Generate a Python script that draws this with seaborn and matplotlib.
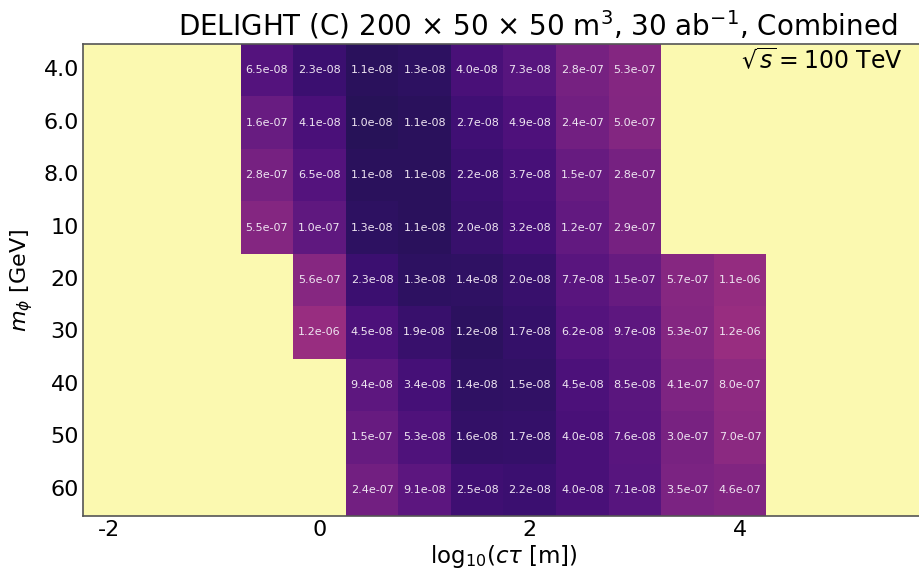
import numpy as np
import pandas as pd
import matplotlib
matplotlib.use("Agg")
import matplotlib.pyplot as plt
import seaborn as sns
from matplotlib.colors import LogNorm

# Data
nan = np.nan
log_ctau = [-2.0, -1.5, -1.0, -0.5, 0.0, 0.5, 1.0, 1.5, 2.0, 2.5, 3.0, 3.5, 4.0, 4.5, 5.0, 5.5]
mass_labels = ["4.0", "6.0", "8.0", "10", "20", "30", "40", "50", "60"]

m4 = [nan, nan, nan, 6.5e-08, 2.3e-08, 1.1e-08, 1.3e-08, 4.0e-08, 7.3e-08, 2.8e-07, 5.3e-07, nan, nan, nan, nan, nan]
m6 = [nan, nan, nan, 1.6e-07, 4.1e-08, 1.0e-08, 1.1e-08, 2.7e-08, 4.9e-08, 2.4e-07, 5.0e-07, nan, nan, nan, nan, nan]
m8 = [nan, nan, nan, 2.8e-07, 6.5e-08, 1.1e-08, 1.1e-08, 2.2e-08, 3.7e-08, 1.5e-07, 2.8e-07, nan, nan, nan, nan, nan]
m10 = [nan, nan, nan, 5.5e-07, 1.0e-07, 1.3e-08, 1.1e-08, 2.0e-08, 3.2e-08, 1.2e-07, 2.9e-07, nan, nan, nan, nan, nan]
m20 = [nan, nan, nan, nan, 5.6e-07, 2.3e-08, 1.3e-08, 1.4e-08, 2.0e-08, 7.7e-08, 1.5e-07, 5.7e-07, 1.1e-06, nan, nan, nan]
m30 = [nan, nan, nan, nan, 1.2e-06, 4.5e-08, 1.9e-08, 1.2e-08, 1.7e-08, 6.2e-08, 9.7e-08, 5.3e-07, 1.2e-06, nan, nan, nan]
m40 = [nan, nan, nan, nan, nan, 9.4e-08, 3.4e-08, 1.4e-08, 1.5e-08, 4.5e-08, 8.5e-08, 4.1e-07, 8.0e-07, nan, nan, nan]
m50 = [nan, nan, nan, nan, nan, 1.5e-07, 5.3e-08, 1.6e-08, 1.7e-08, 4.0e-08, 7.6e-08, 3.0e-07, 7.0e-07, nan, nan, nan]
m60 = [nan, nan, nan, nan, nan, 2.4e-07, 9.1e-08, 2.5e-08, 2.2e-08, 4.0e-08, 7.1e-08, 3.5e-07, 4.6e-07, nan, nan, nan]

xtick_values = [-2.0, 0.0, 2.0, 4.0]
xtick_labels = ["-2", "0", "2", "4"]

df = pd.DataFrame([m4, m6, m8, m10, m20, m30, m40, m50, m60],
                  index=mass_labels, columns=log_ctau)

sns.set_theme(style="white")
plt.rcParams['font.family'] = ['DejaVu Sans']
plt.rcParams['mathtext.fontset'] = 'dejavusans'
plt.rcParams['text.color'] = 'black'
plt.rcParams['axes.labelcolor'] = 'black'
plt.rcParams['xtick.color'] = 'black'
plt.rcParams['ytick.color'] = 'black'

fig = plt.figure(figsize=(9.19, 5.70), dpi=100)
ax = fig.add_axes([83 / 919, 54 / 570, 841 / 919, 472 / 570])
ax.set_facecolor('#fbf9b0')

sns.heatmap(df, ax=ax, cmap='magma', norm=LogNorm(vmin=10**-9.2, vmax=10**-1.5),
            annot=True, fmt='.1e', cbar=False,
            annot_kws={'fontsize': 8, 'color': '#efe6f2'})

# x ticks at the cell centres of the chosen log10(ctau) values
ax.set_xticks([log_ctau.index(v) + 0.5 for v in xtick_values])
ax.set_xticklabels(xtick_labels, fontsize=16, rotation=0)
ax.set_yticklabels(mass_labels, fontsize=16, rotation=0)
ax.tick_params(length=0, pad=3)

for side in ['left', 'bottom', 'top']:
    ax.spines[side].set_visible(True)
    ax.spines[side].set_color('#555555')
    ax.spines[side].set_linewidth(1.2)

ax.set_xlabel(r"log$_{10}$($c\tau$ [m])", fontsize=16.5, labelpad=2)
ax.set_ylabel(r"$m_{\phi}$ [GeV]", fontsize=16, labelpad=6)

fig.text(897 / 919, 1 - 25 / 570,
         r"DELIGHT (C) 200 $\times$ 50 $\times$ 50 m$^3$, 30 ab$^{-1}$, Combined",
         ha='right', va='center', fontsize=20)
fig.text(903 / 919, 1 - 61 / 570, r"$\sqrt{s} = 100$ TeV",
         ha='right', va='center', fontsize=17)

fig.savefig("out.png", dpi=100)
